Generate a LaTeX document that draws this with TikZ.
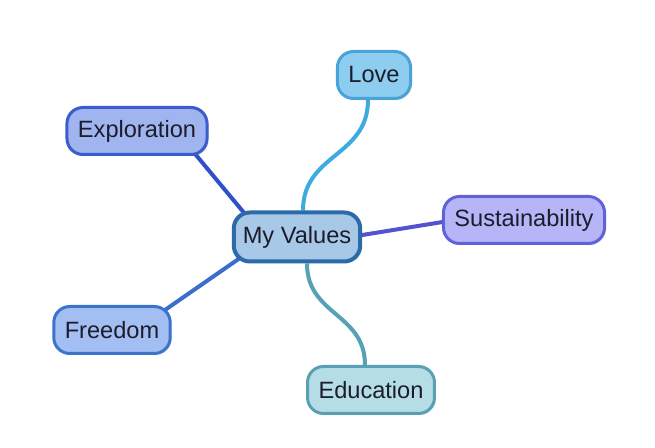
\documentclass[tikz,border=0pt]{standalone}
\usepackage{fontspec}
\setmainfont{Liberation Sans}
\usepackage{xcolor}
\usetikzlibrary{positioning,shadows,backgrounds}
\definecolor{valfill}{HTML}{A8C8E8}
\definecolor{valdraw}{HTML}{2C6BA8}
\definecolor{lovefill}{HTML}{8DCDF0}
\definecolor{lovedraw}{HTML}{4AA3D8}
\definecolor{loveline}{HTML}{3DAAE2}
\definecolor{explfill}{HTML}{A0B4F0}
\definecolor{expldraw}{HTML}{3A5CCC}
\definecolor{explline}{HTML}{2F50C8}
\definecolor{sustfill}{HTML}{B5B5F7}
\definecolor{sustdraw}{HTML}{6262D8}
\definecolor{sustline}{HTML}{5252D2}
\definecolor{freefill}{HTML}{A2BEF2}
\definecolor{freedraw}{HTML}{3C74CC}
\definecolor{freeline}{HTML}{3A6ECC}
\definecolor{educfill}{HTML}{B5DDE5}
\definecolor{educdraw}{HTML}{5AA0B4}
\definecolor{educline}{HTML}{55A2B6}
\definecolor{txt}{HTML}{1C1C2A}
\tikzset{
    topic/.style={
        draw,
        rounded corners=8pt,
        line width=1.5pt,
        minimum height=23.5pt,
        inner xsep=5.5pt,
        text=txt,
        font=\fontsize{11.8pt}{14pt}\selectfont,
        drop shadow={opacity=0.2, shadow xshift=0.8pt, shadow yshift=-0.8pt}
    },
    core/.style={
        topic,
        line width=2pt,
        minimum height=24.5pt,
        inner xsep=4.5pt
    },
    link/.style={
        line width=2pt
    }
}

\begin{document}
\begin{tikzpicture}[x=0.5pt, y=-0.5pt]
    \useasboundingbox (0,0) rectangle (655,448);

    % Nodes
    \node[core, fill=valfill, draw=valdraw] (values) at (297,237) {My Values};
    \node[topic, fill=lovefill, draw=lovedraw] (love) at (374,75) {Love};
    \node[topic, fill=explfill, draw=expldraw] (expl) at (137,131) {Exploration};
    \node[topic, fill=sustfill, draw=sustdraw] (sust) at (524,220) {Sustainability};
    \node[topic, fill=freefill, draw=freedraw] (free) at (112,330) {Freedom};
    \node[topic, fill=educfill, draw=educdraw] (educ) at (371,390) {Education};

    % Edges
    \begin{scope}[on background layer]
        \fill[white] (0,0) rectangle (655,448);
        \draw[link, loveline] ([xshift=3]values.north)
            .. controls +(0,-57) and +(0,57) .. ([xshift=-3]love.south);
        \draw[link, explline] ([shift={(46.75,9.25)}]expl.center)
            -- ([shift={(-39.75,-8.25)}]values.center);
        \draw[link, sustline] ([shift={(53,0)}]values.center)
            -- ([shift={(-69,0)}]sust.center);
        \draw[link, freeline] ([shift={(38,-9.6)}]free.center)
            -- ([shift={(-42,10.6)}]values.center);
        \draw[link, educline] ([xshift=5]values.south)
            .. controls +(0,52) and +(0,-52) .. ([xshift=-3]educ.north);
    \end{scope}
\end{tikzpicture}
\end{document}
